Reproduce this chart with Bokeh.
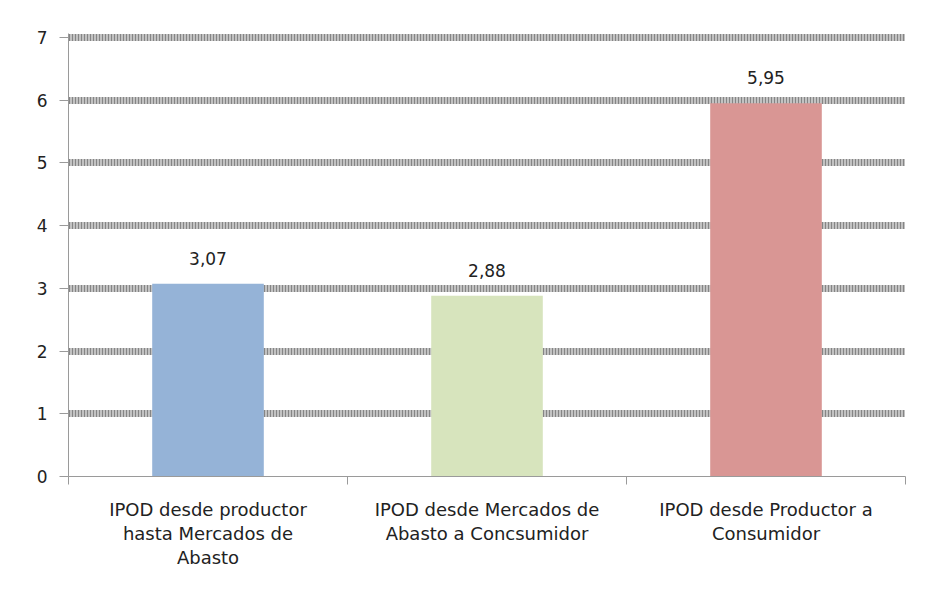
from bokeh.plotting import figure
from bokeh.models import Range1d, FixedTicker, LinearAxis, ColumnDataSource
from bokeh.core.properties import value
from bokeh.embed import file_html
from bokeh.resources import INLINE

categories = ["IPOD desde productor\nhasta Mercados de\nAbasto",
              "IPOD desde Mercados de\nAbasto a Concsumidor",
              "IPOD desde Productor a\nConsumidor"]
values = [3.07, 2.88, 5.95]
value_labels = ["3,07", "2,88", "5,95"]
colors = ["#95b3d7", "#d7e4bd", "#d99694"]
y_ticks = [0, 1, 2, 3, 4, 5, 6, 7]

FONT = "DejaVu Sans"
xs = [i + 0.5 for i in range(len(categories))]

p = figure(width=921, height=592, output_backend="svg", toolbar_location=None,
           x_range=Range1d(0, len(categories)), y_range=Range1d(0, 7.06),
           min_border_left=68, min_border_right=16, min_border_top=33, min_border_bottom=116)
p.outline_line_color = None
p.background_fill_color = "white"
p.border_fill_color = "white"

src = ColumnDataSource(dict(x=xs, top=values, color=colors, lab=value_labels))
p.vbar(x="x", top="top", bottom=0, width=0.4, fill_color="color", line_color=None, source=src)
p.text(x="x", y="top", text="lab", source=src, text_align="center", text_baseline="bottom",
       y_offset=-19, text_font=value(FONT), text_font_size="17px", text_color="#222222")

# grid
p.xgrid.grid_line_color = None
p.ygrid.ticker = FixedTicker(ticks=[t for t in y_ticks if t > 0])
p.ygrid.grid_line_color = "#858585"
p.ygrid.grid_line_width = 7
p.ygrid.grid_line_dash = "2 1"

# y axis
p.yaxis.ticker = FixedTicker(ticks=y_ticks)
p.yaxis.axis_line_color = "#9a9a9a"
p.yaxis.major_tick_line_color = "#9a9a9a"
p.yaxis.major_tick_out = 9
p.yaxis.major_tick_in = 0
p.yaxis.minor_tick_line_color = None
p.yaxis.major_label_standoff = 12
p.yaxis.major_label_text_font = FONT
p.yaxis.major_label_text_font_size = "17px"
p.yaxis.major_label_text_color = "#222222"

# x axis with boundary ticks
bounds = list(range(len(categories) + 1))
p.xaxis.ticker = FixedTicker(ticks=bounds)
p.xaxis.axis_line_color = "#9a9a9a"
p.xaxis.major_tick_line_color = "#9a9a9a"
p.xaxis.major_tick_out = 8
p.xaxis.major_tick_in = 0
p.xaxis.minor_tick_line_color = None
p.xaxis.major_label_overrides = {b: "" for b in bounds}
p.xaxis.major_label_standoff = 0

lab_axis = LinearAxis(ticker=FixedTicker(ticks=xs),
                      major_label_overrides={x: c for x, c in zip(xs, categories)})
lab_axis.axis_line_color = None
lab_axis.major_tick_line_color = None
lab_axis.minor_tick_line_color = None
lab_axis.major_label_standoff = 8
lab_axis.major_label_text_font = FONT
lab_axis.major_label_text_font_size = "18px"
lab_axis.major_label_text_color = "#222222"
lab_axis.major_label_text_line_height = 1.15
p.add_layout(lab_axis, "below")

open("out.html", "w").write(file_html(p, INLINE))
